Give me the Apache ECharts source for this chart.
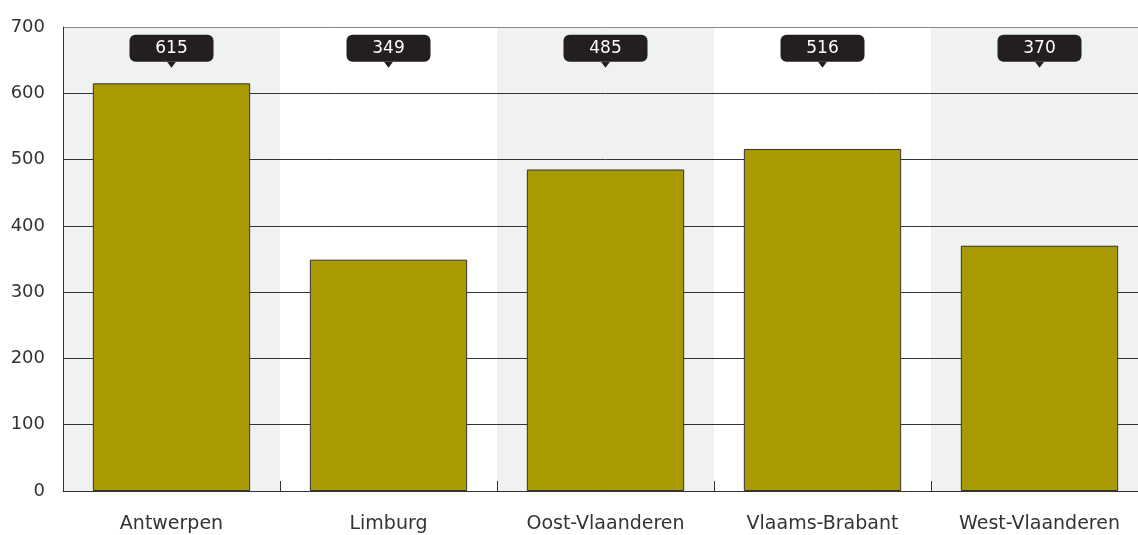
<!DOCTYPE html>
<html>
<head>
<meta charset="utf-8">
<script src="https://cdn.jsdelivr.net/npm/echarts@6/dist/echarts.min.js"></script>
<style>
  html, body { margin: 0; padding: 0; background: #fff; overflow: hidden; }
  /* plot loopt iets voorbij de rechterrand door */
  #main { width: 1148px; height: 535px; }
</style>
</head>
<body>
<div id="main"></div>
<script>
// provincies en waarden
var categories = ['Antwerpen', 'Limburg', 'Oost-Vlaanderen', 'Vlaams-Brabant', 'West-Vlaanderen'];
var values = [615, 349, 485, 516, 370];
var labelLevel = 643; // hoogte van de label-pijltjes (in as-eenheden)

var chart = echarts.init(document.getElementById('main'));

var option = {
    animation: false,
    textStyle: { fontFamily: '"DejaVu Sans", sans-serif' },
    grid: { left: 63, right: 0, top: 27, bottom: 44, containLabel: false },
    xAxis: {
        type: 'category',
        data: categories,
        axisLine: { lineStyle: { color: '#333', width: 1 } },
        axisTick: { show: true, inside: true, length: 10, lineStyle: { color: '#333' } },
        axisLabel: { color: '#333', fontSize: 19, margin: 24 },
        splitArea: { show: true, areaStyle: { color: ['#f0f1f3', '#ffffff'] } }
    },
    yAxis: {
        type: 'value',
        min: 0,
        max: 700,
        interval: 100,
        axisLine: { show: true, lineStyle: { color: '#333' } },
        axisTick: { show: false },
        axisLabel: { color: '#333', fontSize: 18, margin: 18, verticalAlign: 'middle', padding: [0, 0, 10, 0] },
        splitLine: {
            show: true,
            lineStyle: { color: ['#333', '#333', '#333', '#333', '#333', '#333', '#333', '#888'], width: 1 }
        },
        z: 3
    },
    series: [
        {
            type: 'bar',
            data: values,
            barCategoryGap: '27.5%',
            itemStyle: { color: '#a89a00', borderColor: '#333', borderWidth: 1 },
            z: 4
        },
        {
            // labels boven in de grafiek
            type: 'scatter',
            data: categories.map(function (c) { return [c, labelLevel]; }),
            symbol: 'path://M0,0 L10,0 L5,6 Z',
            symbolSize: [9, 6],
            itemStyle: { color: '#231f20', opacity: 1 },
            silent: true,
            label: {
                show: true,
                position: 'inside',
                offset: [0, -16.5],
                formatter: function (p) { return values[p.dataIndex]; },
                color: '#fff',
                fontSize: 17,
                lineHeight: 17,
                backgroundColor: '#231f20',
                borderRadius: 6,
                padding: [5, 0],
                width: 84,
                align: 'center'
            },
            z: 5
        }
    ]
};

chart.setOption(option);
</script>
</body>
</html>
